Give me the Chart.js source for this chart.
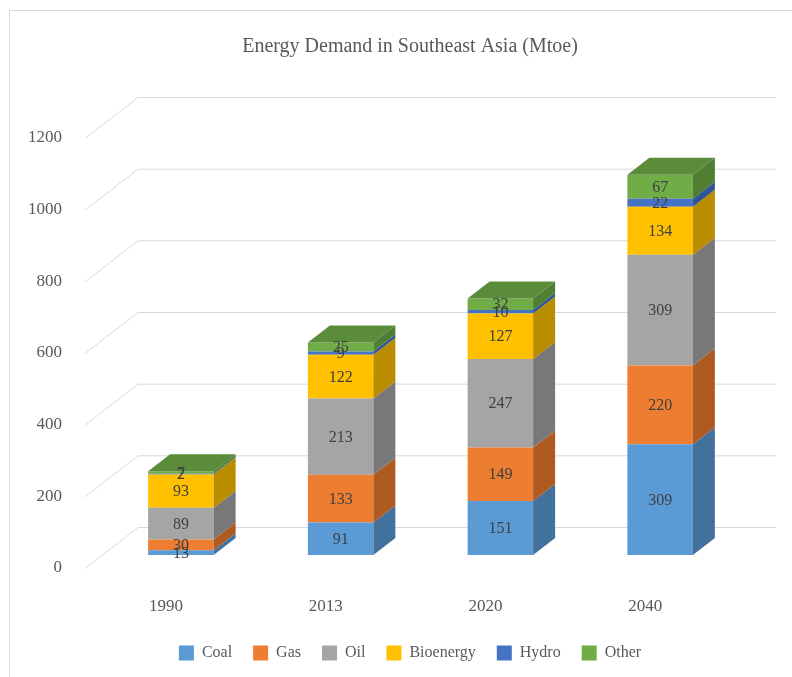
<!DOCTYPE html>
<html>
<head>
<meta charset="utf-8">
<script src="https://cdn.jsdelivr.net/npm/chart.js@4/dist/chart.umd.min.js"></script>
<style>
  html, body { margin: 0; padding: 0; background: #fff; }
  #wrap { width: 792px; height: 677px; }
</style>
</head>
<body>
<div id="wrap"><canvas id="grafico"></canvas></div>
<script>
// --- dados ---
const categorias = ["1990", "2013", "2020", "2040"];
const coal = [13, 91, 151, 309];
const gas = [30, 133, 149, 220];
const oil = [89, 213, 247, 309];
const bioenergy = [93, 122, 127, 134];
const hydro = [2, 9, 10, 22];
const other = [7, 25, 32, 67];

const nomes = ["Coal", "Gas", "Oil", "Bioenergy", "Hydro", "Other"];
const series = [coal, gas, oil, bioenergy, hydro, other];
const cores = ["#5B9BD5", "#ED7D31", "#A5A5A5", "#FFC000", "#4472C4", "#70AD47"];
const coresLado = ["#41719C", "#AE5A21", "#787878", "#BA8C00", "#2F5597", "#507E32"];
const coresTopo = ["#4F86B8", "#C8692A", "#8C8C8C", "#D9A300", "#3A62A8", "#5A8C3A"];

const FONTE = "'Liberation Serif', 'Times New Roman', serif";
const CINZA = "#595959";

// profundidade das barras e da parede
const DX = 22, DY = -17;

const efeito3d = {
  id: "efeito3d",
  beforeDraw(chart) {
    const c = chart.ctx;
    c.save();
    c.fillStyle = "#fff";
    c.fillRect(0, 0, chart.width, chart.height);
    c.strokeStyle = "#D9D9D9";
    c.lineWidth = 1;
    c.strokeRect(9.5, 10.5, chart.width + 10, chart.height + 10);
    c.restore();
  },
  beforeDatasetsDraw(chart) {
    const c = chart.ctx;
    const y = chart.scales.y;
    const area = chart.chartArea;
    const xFrente = area.left - 16;
    const xFundo = area.left + 37;
    const xFim = area.right + 36;
    c.save();
    c.strokeStyle = "#D9D9D9";
    c.lineWidth = 1;
    c.fillStyle = CINZA;
    c.font = "17px " + FONTE;
    c.textAlign = "right";
    c.textBaseline = "middle";
    y.ticks.forEach(t => {
      const py = y.getPixelForValue(t.value);
      c.beginPath();
      c.moveTo(xFrente, py + 13.5);
      c.lineTo(xFundo, py - 27.5);
      c.lineTo(xFim, py - 27.5);
      c.stroke();
      // rótulo do eixo no plano da frente
      c.fillText(String(t.value), area.left - 39, py + 13);
    });
    c.restore();
  },
  afterDatasetsDraw(chart) {
    const c = chart.ctx;
    c.save();
    const n = chart.data.datasets.length;
    for (let i = 0; i < n; i++) {
      const meta = chart.getDatasetMeta(i);
      meta.data.forEach((bar, j) => {
        const p = bar.getProps(["x", "y", "base", "width"], true);
        const esq = p.x - p.width / 2, dir = p.x + p.width / 2;
        // lado direito
        c.fillStyle = coresLado[i];
        c.beginPath();
        c.moveTo(dir, p.y);
        c.lineTo(dir + DX, p.y + DY);
        c.lineTo(dir + DX, p.base + DY);
        c.lineTo(dir, p.base);
        c.closePath();
        c.fill();
        // topo só no último segmento
        if (i === n - 1) {
          c.fillStyle = coresTopo[i];
          c.beginPath();
          c.moveTo(esq, p.y);
          c.lineTo(esq + DX, p.y + DY);
          c.lineTo(dir + DX, p.y + DY);
          c.lineTo(dir, p.y);
          c.closePath();
          c.fill();
        }
      });
    }
    // rótulos
    c.fillStyle = "#404040";
    c.font = "16px " + FONTE;
    c.textAlign = "center";
    c.textBaseline = "middle";
    for (let i = 0; i < n; i++) {
      const meta = chart.getDatasetMeta(i);
      meta.data.forEach((bar, j) => {
        const p = bar.getProps(["x", "y", "base"], true);
        c.fillText(String(series[i][j]), p.x, (p.y + p.base) / 2 + 1);
      });
    }
    c.restore();
  }
};

new Chart(document.getElementById("grafico"), {
  type: "bar",
  data: {
    labels: categorias,
    datasets: series.map((s, i) => ({
      label: nomes[i],
      data: s,
      backgroundColor: cores[i],
      borderWidth: 0,
      barPercentage: 0.41,
      categoryPercentage: 1
    }))
  },
  options: {
    responsive: true,
    maintainAspectRatio: false,
    animation: false,
    layout: { padding: { left: 80, right: 52, top: 0, bottom: 6 } },
    plugins: {
      title: {
        display: true,
        text: "Energy Demand in Southeast Asia (Mtoe)",
        color: CINZA,
        font: { family: FONTE, size: 20, weight: "normal" },
        padding: { top: 35, bottom: 66 }
      },
      legend: {
        position: "bottom",
        labels: {
          color: CINZA,
          font: { family: FONTE, size: 16 },
          boxWidth: 15,
          boxHeight: 15,
          padding: 21
        }
      },
      tooltip: { enabled: false }
    },
    scales: {
      x: {
        stacked: true,
        grid: { display: false },
        border: { display: false },
        ticks: {
          color: CINZA,
          font: { family: FONTE, size: 17 },
          padding: 33,
          labelOffset: -15
        },
        afterFit: s => { s.height = 69; }
      },
      y: {
        stacked: true,
        min: 0,
        max: 1200,
        grid: { display: false },
        border: { display: false },
        ticks: { stepSize: 200, display: false },
        afterFit: s => { s.width = 21; }
      }
    }
  },
  plugins: [efeito3d]
});
</script>
</body>
</html>
